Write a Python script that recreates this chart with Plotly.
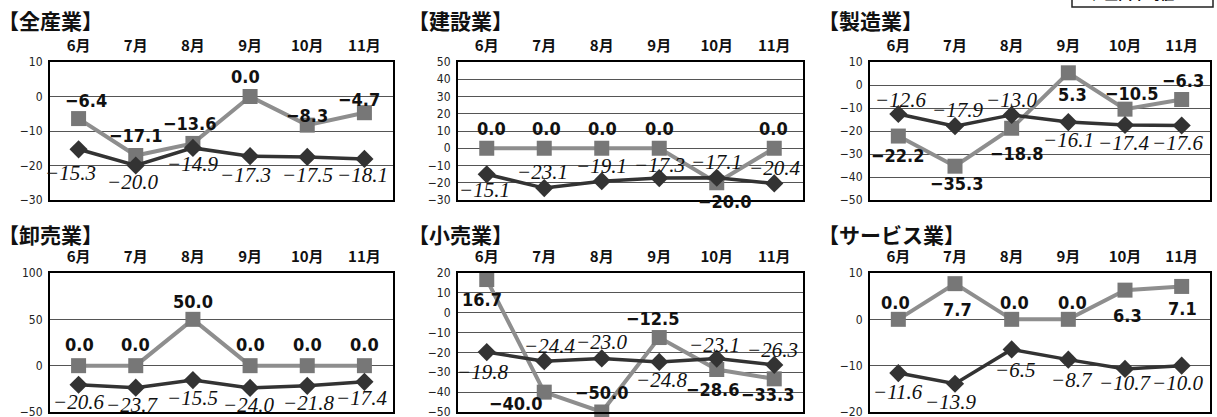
import plotly.graph_objects as go

W, H = 1217, 417

months = ["6月", "7月", "8月", "9月", "10月", "11月"]
titles = ["【全産業】", "【建設業】", "【製造業】", "【卸売業】", "【小売業】", "【サービス業】"]

# gray square series (県内)
sq_all = [-6.4, -17.1, -13.6, 0.0, -8.3, -4.7]
sq_con = [0.0, 0.0, 0.0, 0.0, -20.0, 0.0]
sq_man = [-22.2, -35.3, -18.8, 5.3, -10.5, -6.3]
sq_whl = [0.0, 0.0, 50.0, 0.0, 0.0, 0.0]
sq_ret = [16.7, -40.0, -50.0, -12.5, -28.6, -33.3]
sq_svc = [0.0, 7.7, 0.0, 0.0, 6.3, 7.1]

# dark diamond series (全国)
dm_all = [-15.3, -20.0, -14.9, -17.3, -17.5, -18.1]
dm_con = [-15.1, -23.1, -19.1, -17.3, -17.1, -20.4]
dm_man = [-12.6, -17.9, -13.0, -16.1, -17.4, -17.6]
dm_whl = [-20.6, -23.7, -15.5, -24.0, -21.8, -17.4]
dm_ret = [-19.8, -24.4, -23.0, -24.8, -23.1, -26.3]
dm_svc = [-11.6, -13.9, -6.5, -8.7, -10.7, -10.0]

# y axis ranges (min, max, step)
y_min = [-30, -30, -50, -50, -50, -20]
y_max = [10, 50, 10, 100, 20, 10]
y_step = [10, 10, 10, 50, 10, 10]

squares = [sq_all, sq_con, sq_man, sq_whl, sq_ret, sq_svc]
diamonds = [dm_all, dm_con, dm_man, dm_whl, dm_ret, dm_svc]

# ---- layout / style (pixel geometry) ----
cols_px = [(50, 393), (458, 803), (870, 1210)]
rows_px = [(62, 200), (273, 412)]
title_px = [(5, 20), (415, 20), (825, 20), (5, 234), (415, 234), (825, 234)]

# label offsets (dx, dy in px; dy positive = up)
sq_dx = [[7, 0, -3, -5, 0, -5], [5, 2, 1, 0, 8, -1], [0, 2, 5, 4, 7, 1],
         [1, 0, 0, 0, 0, 0], [-5, -28, 0, -6, -4, -6], [-3, 2, 3, 4, 2, 1]]
sq_dy = [[18, 20, 20, 20, 10, 13], [20, 20, 20, 20, -19, 20], [-19, -17, -25, -22, 16, 19],
         [21, 21, 18, 21, 21, 21], [-20, -11, 20, 19, -20, -16], [17, -26, 17, 17, -25, -22]]
dm_dx = [[-8, -3, 0, -5, 0, -2], [-2, -2, 0, 0, 0, 0], [2, 2, 0, 0, -2, -4],
         [0, -4, 0, -2, 1, -3], [-4, 5, 0, 2, -2, -2], [0, -5, 3, 4, 0, -4]]
dm_dy = [[-24, -16, -16, -19, -18, -16], [-16, 16, 15, 13, 16, 15], [14, 16, 15, -18, -18, -18],
         [-17, -17, -18, -17, -17, -16], [-20, 15, 16, -18, 14, 15], [-19, -18, -21, -20, -14, -17]]

SQ_LINE = "#8e8e8e"
SQ_MARK = "#777777"
DM_COLOR = "#333333"
NARROW = "Liberation Sans Narrow, DejaVu Sans Condensed, Roboto, sans-serif"
SERIF = "Liberation Serif, DejaVu Serif, serif"
CJK = "Noto Sans CJK JP, sans-serif"


def fmt(v):
    return f"{v:.1f}".replace("-", "−")


fig = go.Figure()
annotations = []
layout = {}

for i in range(6):
    r, c = divmod(i, 3)
    n = "" if i == 0 else str(i + 1)
    xa, ya = "x" + n, "y" + n
    l, rr = cols_px[c]
    t, b = rows_px[r]
    layout["xaxis" + n] = dict(
        domain=[l / W, rr / W], anchor=ya, type="category", range=[-0.5, 5.5],
        side="top", showline=True, mirror=True, linecolor="black", linewidth=2,
        showgrid=False, ticks="", ticklabelstandoff=3, automargin=False,
        tickfont=dict(family=CJK, size=15, color="#111", weight="bold"),
    )
    layout["yaxis" + n] = dict(
        domain=[1 - b / H, 1 - t / H], anchor=xa, range=[y_min[i], y_max[i]],
        tick0=y_min[i], dtick=y_step[i], showline=True, mirror=True,
        linecolor="black", linewidth=2, showgrid=True, gridcolor="#555",
        gridwidth=1, zeroline=False, ticks="", ticklabelstandoff=3, automargin=False,
        ticklabeloverflow="allow",
        tickfont=dict(family=NARROW, size=12, color="#222"),
    )
    fig.add_trace(go.Scatter(
        x=months, y=squares[i], xaxis=xa, yaxis=ya, mode="lines+markers",
        name="県内", showlegend=False,
        line=dict(color=SQ_LINE, width=4),
        marker=dict(symbol="square", size=15, color=SQ_MARK),
        cliponaxis=False,
    ))
    fig.add_trace(go.Scatter(
        x=months, y=diamonds[i], xaxis=xa, yaxis=ya, mode="lines+markers",
        name="全国", showlegend=False,
        line=dict(color=DM_COLOR, width=3.5),
        marker=dict(symbol="diamond", size=14, color=DM_COLOR),
        cliponaxis=False,
    ))
    for j, m in enumerate(months):
        annotations.append(dict(
            x=m, y=squares[i][j], xref=xa, yref=ya, text=fmt(squares[i][j]),
            showarrow=False, xshift=sq_dx[i][j], yshift=sq_dy[i][j],
            font=dict(family=NARROW, size=18, color="#111", weight="bold"),
        ))
        annotations.append(dict(
            x=m, y=diamonds[i][j], xref=xa, yref=ya, text=fmt(diamonds[i][j]),
            showarrow=False, xshift=dm_dx[i][j], yshift=dm_dy[i][j],
            font=dict(family=SERIF, size=21, color="#111", style="italic"),
        ))
    tx, ty = title_px[i]
    annotations.append(dict(
        x=tx / W, y=1 - ty / H, xref="paper", yref="paper", text=titles[i],
        showarrow=False, xanchor="left", yanchor="middle", xshift=-9,
        font=dict(family=CJK, size=21, color="#111", weight="bold"),
    ))

# partially visible legend box at the top right
annotations.append(dict(
    x=1085 / W, y=1 - 5 / H, xref="paper", yref="paper", text="◆ 全国平均値",
    showarrow=False, xanchor="left", yanchor="bottom",
    font=dict(family=CJK, size=14, color="#111", weight="bold"),
))
shapes = [dict(type="rect", xref="paper", yref="paper", x0=1072 / W, x1=1213 / W,
               y0=1 - 7 / H, y1=1.1, line=dict(color="#222", width=1.5))]

fig.update_layout(
    width=W, height=H, margin=dict(l=0, r=0, t=0, b=0, autoexpand=False),
    paper_bgcolor="white", plot_bgcolor="white",
    annotations=annotations, shapes=shapes, showlegend=False,
    **layout,
)

fig.write_html(
    "out.html", config={"displayModeBar": False},
    post_script="document.body.style.margin='0';document.body.style.overflow='hidden';",
)
